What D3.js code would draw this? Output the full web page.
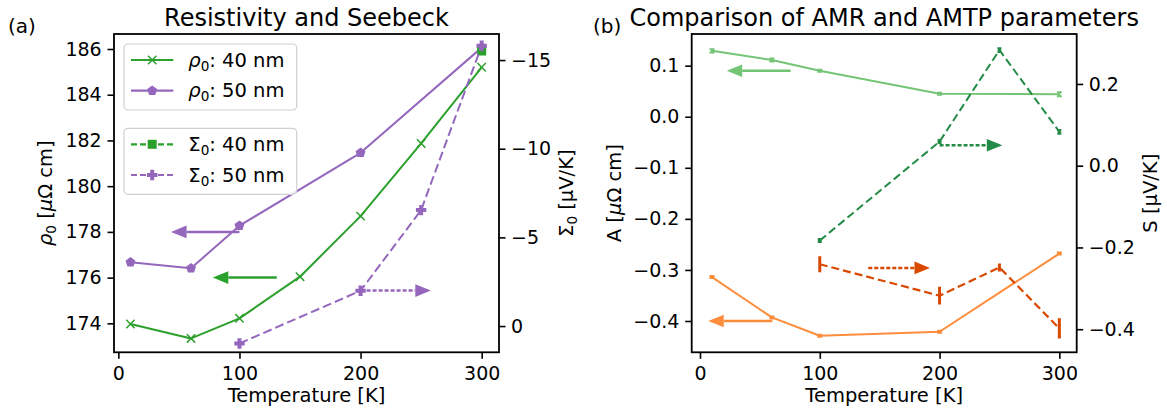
<!DOCTYPE html>
<html>
<head>
<meta charset="utf-8">
<script src="https://cdn.jsdelivr.net/npm/d3@7"></script>
<style>
  body { margin: 0; background: #fff; }
  svg { display: block; font-family: "DejaVu Sans", sans-serif; }
</style>
</head>
<body>
<svg id="fig" width="1167" height="412"></svg>
<script>
// ---------- panel (a): residual resistivity and Seebeck offset ----------
const tRho40 = [10, 60, 100, 150, 200, 250, 300];
const rho40  = [173.97, 173.34, 174.22, 176.04, 178.69, 181.87, 185.2];
const tRho50 = [10, 60, 100, 200, 300];
const rho50  = [176.67, 176.41, 178.27, 181.46, 186.06];
const tSig40 = [300];
const sig40  = [-15.51];
const tSig50 = [100, 200, 250, 300];
const sig50  = [0.98, -1.99, -6.54, -15.81];

// ---------- panel (b): AMR amplitude A and AMTP amplitude S ----------
const tA        = [10, 60, 100, 200, 300];
const aGreen    = [0.129, 0.111, 0.090, 0.045, 0.044];
const aGreenErr = [0.003, 0.003, 0.002, 0.002, 0.004];
const aOrange    = [-0.314, -0.393, -0.429, -0.421, -0.268];
const aOrangeErr = [0.002, 0.002, 0.002, 0.002, 0.002];
const tS         = [100, 200, 250, 300];
const sGreen     = [-0.183, 0.059, 0.283, 0.083];
const sGreenErr  = [0.003, 0.003, 0.004, 0.004];
const sOrange    = [-0.241, -0.318, -0.249, -0.398];
const sOrangeErr = [0.016, 0.018, 0.006, 0.021];

// ---------- axis ticks ----------
const tempTicks = [0, 100, 200, 300];
const rhoTicks  = [174, 176, 178, 180, 182, 184, 186];
const sigTicks  = [0, -5, -10, -15];
const aTicks    = [0.1, 0.0, -0.1, -0.2, -0.3, -0.4];
const sTicks    = [0.2, 0.0, -0.2, -0.4];

// ---------- guide arrows: [tail T, tip T, value] ----------
const arrowRho50 = [100, 43.5, 178];
const arrowRho40 = [130.8, 78, 176];
const arrowSig50 = [200, 258, -2];
const arrowAGreen  = [75.7, 22.3, 0.09];
const arrowAOrange = [60.4, 6.9, -0.4];
const arrowSGreen  = [200, 252.4, 0.05];
const arrowSOrange = [140.5, 192, -0.25];

const C = {
  green: "#2ca02c", purple: "#9467bd",
  lgreen: "#74c476", orange: "#fd8d3c", dgreen: "#238b45", dorange: "#d94801"
};
const FS = 19;     // tick labels
const FL = 19.5;   // axis labels

const svg = d3.select("#fig");

// scales
const xa = d3.scaleLinear([-3.6, 314.3], [114, 499]);
const yRho = d3.scaleLinear([172.733, 186.656], [352.3, 34]);
const ySig = d3.scaleLinear([1.48, -16.47], [352.3, 34]);
const xb = d3.scaleLinear([-6.93, 314.5], [691.7, 1076.7]);
const yA = d3.scaleLinear([-0.4613, 0.162], [352.3, 34]);
const yS = d3.scaleLinear([-0.4565, 0.3222], [352.3, 34]);

function styleAxis(g) {
  g.attr("font-size", FS).attr("font-family", "DejaVu Sans");
  g.select(".domain").remove();
  g.selectAll(".tick line").attr("stroke", "#000").attr("stroke-width", 1.6);
  g.selectAll(".tick text").attr("fill", "#000");
}

function drawAxes(x, yl, yr, ticksL, ticksR, fmtL, fmtR) {
  const bottom = yl.range()[0];
  svg.append("g").attr("transform", `translate(0,${bottom})`)
    .call(d3.axisBottom(x).tickValues(tempTicks).tickSize(6.5).tickPadding(7.5).tickSizeOuter(0))
    .call(styleAxis);
  svg.append("g").attr("transform", `translate(${x.range()[0]},0)`)
    .call(d3.axisLeft(yl).tickValues(ticksL).tickFormat(fmtL).tickSize(6.5).tickPadding(5.8).tickSizeOuter(0))
    .call(styleAxis);
  svg.append("g").attr("transform", `translate(${x.range()[1]},0)`)
    .call(d3.axisRight(yr).tickValues(ticksR).tickFormat(fmtR).tickSize(6.5).tickPadding(5.5).tickSizeOuter(0))
    .call(styleAxis);
}

function frame(x, y) {
  svg.append("rect")
    .attr("x", x.range()[0]).attr("y", y.range()[1])
    .attr("width", x.range()[1] - x.range()[0])
    .attr("height", y.range()[0] - y.range()[1])
    .attr("fill", "none").attr("stroke", "#000").attr("stroke-width", 1.8);
}

function line(g, x, y, ts, vs, color, dash, width) {
  const pts = ts.map((t, i) => [x(t), y(vs[i])]);
  g.append("path").attr("d", d3.line()(pts))
    .attr("fill", "none").attr("stroke", color).attr("stroke-width", width || 2)
    .attr("stroke-dasharray", dash || null).attr("stroke-linejoin", "round");
}

// marker shapes centred at (cx, cy)
function marker(g, type, cx, cy, color) {
  if (type === "x") {
    const r = 4.2;
    g.append("path").attr("d", `M${cx - r},${cy - r}L${cx + r},${cy + r}M${cx - r},${cy + r}L${cx + r},${cy - r}`)
      .attr("stroke", color).attr("stroke-width", 1.5).attr("fill", "none");
  } else if (type === "p") {
    const r = 5.2;
    const pts = d3.range(5).map(k => {
      const a = -Math.PI / 2 + k * 2 * Math.PI / 5;
      return [cx + r * Math.cos(a), cy + r * Math.sin(a)];
    });
    g.append("polygon").attr("points", pts.map(p => p.join(",")).join(" ")).attr("fill", color);
  } else if (type === "s") {
    const h = 4.5;
    g.append("rect").attr("x", cx - h).attr("y", cy - h).attr("width", 2 * h).attr("height", 2 * h).attr("fill", color);
  } else if (type === "P") {
    const r = 5.2, w = 2;
    g.append("path").attr("d",
      `M${cx - w},${cy - r}H${cx + w}V${cy - w}H${cx + r}V${cy + w}H${cx + w}V${cy + r}H${cx - w}V${cy + w}H${cx - r}V${cy - w}H${cx - w}Z`)
      .attr("fill", color);
  }
}

function markers(g, x, y, ts, vs, type, color) {
  ts.forEach((t, i) => marker(g, type, x(t), y(vs[i]), color));
}

function errorbars(g, x, y, ts, vs, es, color, width, cap) {
  ts.forEach((t, i) => {
    const cx = x(t), y0 = y(vs[i] - es[i]), y1 = y(vs[i] + es[i]);
    g.append("path").attr("d", `M${cx},${y0}L${cx},${y1}M${cx - cap},${y0}H${cx + cap}M${cx - cap},${y1}H${cx + cap}`)
      .attr("stroke", color).attr("stroke-width", width).attr("fill", "none");
  });
}

function arrow(g, x, y, a, color, dashed) {
  const [t0, t1, v] = a;
  const x0 = x(t0), x1 = x(t1), yy = y(v);
  const dir = Math.sign(x1 - x0);
  const hl = 15.5, hw = 6.3;
  g.append("line").attr("x1", x0).attr("x2", x1 - dir * hl).attr("y1", yy).attr("y2", yy)
    .attr("stroke", color).attr("stroke-width", 2.5)
    .attr("stroke-dasharray", dashed ? "4,2" : null);
  g.append("polygon")
    .attr("points", `${x1},${yy} ${x1 - dir * hl},${yy - hw} ${x1 - dir * hl},${yy + hw}`)
    .attr("fill", color);
}

// ===================== panel (a) =====================
const ga = svg.append("g");
line(ga, xa, yRho, tRho40, rho40, C.green);
markers(ga, xa, yRho, tRho40, rho40, "x", C.green);
line(ga, xa, yRho, tRho50, rho50, C.purple);
markers(ga, xa, yRho, tRho50, rho50, "p", C.purple);
markers(ga, xa, ySig, tSig40, sig40, "s", C.green);
line(ga, xa, ySig, tSig50, sig50, C.purple, "9,4");
markers(ga, xa, ySig, tSig50, sig50, "P", C.purple);
arrow(ga, xa, yRho, arrowRho50, C.purple, false);
arrow(ga, xa, yRho, arrowRho40, C.green, false);
arrow(ga, xa, ySig, arrowSig50, C.purple, true);

drawAxes(xa, yRho, ySig, rhoTicks, sigTicks, d3.format("d"), d3.format("d"));
frame(xa, yRho);

// legends
function legendBox(x, y, w, h) {
  svg.append("rect").attr("x", x).attr("y", y).attr("width", w).attr("height", h)
    .attr("rx", 4).attr("fill", "#fff").attr("fill-opacity", 0.8)
    .attr("stroke", "#d0d0d0").attr("stroke-width", 1.2);
}
function legendEntry(y, color, dash, mtype, sym, italic, rest) {
  const g = svg.append("g");
  g.append("line").attr("x1", 131).attr("x2", 173.3).attr("y1", y).attr("y2", y)
    .attr("stroke", color).attr("stroke-width", 2.2).attr("stroke-dasharray", dash || null);
  marker(g, mtype, 152.2, y, color);
  const t = g.append("text").attr("x", 188.3).attr("y", y + 6.6).attr("font-size", 19.5).attr("fill", "#000");
  t.append("tspan").attr("font-style", italic ? "italic" : null).text(sym);
  t.append("tspan").attr("font-size", 13.6).attr("dy", 4).text("0");
  t.append("tspan").attr("dy", -4).text(rest);
}
legendBox(124, 44, 172.7, 66);
legendEntry(60, C.green, null, "x", "ρ", true, ": 40 nm");
legendEntry(90.7, C.purple, null, "p", "ρ", true, ": 50 nm");
legendBox(124, 128.3, 172.7, 66);
legendEntry(144.3, C.green, "6,3", "s", "Σ", false, ": 40 nm");
legendEntry(175, C.purple, "6,3", "P", "Σ", false, ": 50 nm");

// ===================== panel (b) =====================
const gb = svg.append("g");
line(gb, xb, yA, tA, aGreen, C.lgreen);
errorbars(gb, xb, yA, tA, aGreen, aGreenErr, C.lgreen, 2, 2.5);
line(gb, xb, yA, tA, aOrange, C.orange);
errorbars(gb, xb, yA, tA, aOrange, aOrangeErr, C.orange, 2, 2.5);
line(gb, xb, yS, tS, sGreen, C.dgreen, "8,4");
errorbars(gb, xb, yS, tS, sGreen, sGreenErr, C.dgreen, 2.5, 2);
line(gb, xb, yS, tS, sOrange, C.dorange, "8,4", 2.2);
errorbars(gb, xb, yS, tS, sOrange, sOrangeErr, C.dorange, 3, 1.5);
arrow(gb, xb, yA, arrowAGreen, C.lgreen, false);
arrow(gb, xb, yA, arrowAOrange, C.orange, false);
arrow(gb, xb, yS, arrowSGreen, C.dgreen, true);
arrow(gb, xb, yS, arrowSOrange, C.dorange, true);

drawAxes(xb, yA, yS, aTicks, sTicks, d3.format(".1f"), d3.format(".1f"));
frame(xb, yA);

// ===================== titles and axis labels =====================
function txt(x, y, s, size, anchor) {
  return svg.append("text").attr("x", x).attr("y", y).attr("font-size", size)
    .attr("text-anchor", anchor || "start").attr("fill", "#000").text(s);
}
txt(8, 33, "(a)", 20);
txt(593, 33, "(b)", 20);
txt(306.5, 25.5, "Resistivity and Seebeck", 24, "middle");
txt(884.2, 25.5, "Comparison of AMR and AMTP parameters", 24, "middle");
txt(306.5, 401.5, "Temperature [K]", FL, "middle");
txt(884.2, 401.5, "Temperature [K]", FL, "middle");

function vlabel(x, y, parts) {
  const t = svg.append("text").attr("transform", `translate(${x},${y}) rotate(-90)`)
    .attr("text-anchor", "middle").attr("font-size", FL).attr("fill", "#000");
  parts.forEach(p => {
    const s = t.append("tspan").text(p.s);
    if (p.i) s.attr("font-style", "italic");
    if (p.sub) s.attr("font-size", 13.6).attr("dy", 4);
    if (p.up) s.attr("dy", -4);
  });
}
vlabel(52, 193.2, [{ s: "ρ", i: true }, { s: "0", sub: true }, { s: " [", up: true }, { s: "μ", i: true }, { s: "Ω cm]" }]);
vlabel(573, 193.2, [{ s: "Σ" }, { s: "0", sub: true }, { s: " [µV/K]", up: true }]);
vlabel(621, 193.2, [{ s: "A [" }, { s: "μ", i: true }, { s: "Ω cm]" }]);
vlabel(1157, 193.2, [{ s: "S [µV/K]" }]);
</script>
</body>
</html>
